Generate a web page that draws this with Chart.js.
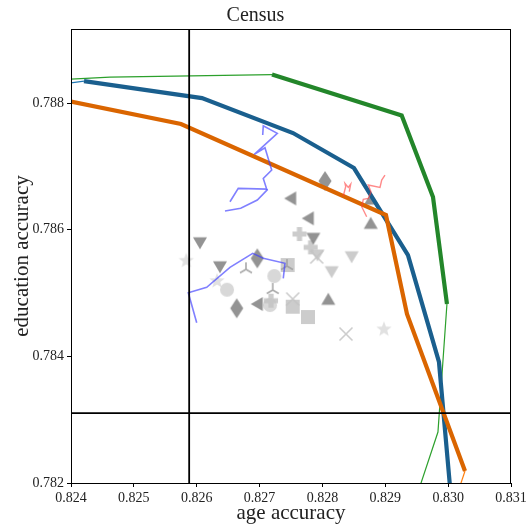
<!DOCTYPE html>
<html>
<head>
<meta charset="utf-8">
<script src="https://cdn.jsdelivr.net/npm/chart.js"></script>
<style>
html, body { margin: 0; padding: 0; background: #fff; }
</style>
</head>
<body>
<canvas id="chart" width="527" height="526"></canvas>
<script>
// axis ticks
const xTicks = [0.824, 0.825, 0.826, 0.827, 0.828, 0.829, 0.830, 0.831];
const yTicks = [0.782, 0.784, 0.786, 0.788];

// thick curves
const blueX = [0.824207, 0.826084, 0.827532, 0.828502, 0.829361, 0.829854, 0.830029];
const blueY = [0.788348, 0.788079, 0.787527, 0.786974, 0.785600, 0.783911, 0.781950];
const orangeX = [0.824000, 0.825750, 0.829011, 0.829345, 0.830268];
const orangeY = [0.788024, 0.787669, 0.786232, 0.784669, 0.782189];
const greenX = [0.827198, 0.829261, 0.829759, 0.829981];
const greenY = [0.788450, 0.787803, 0.786516, 0.784826];

// thin curves
const thinBlueX = [0.824000, 0.824207];
const thinBlueY = [0.788320, 0.788348];
const thinOrangeX = [0.830268, 0.830188];
const thinOrangeY = [0.782189, 0.781950];
const thinGreenTopX = [0.824000, 0.824620, 0.827198];
const thinGreenTopY = [0.788379, 0.788411, 0.788450];
const thinGreenLowX = [0.829981, 0.829838, 0.829552];
const thinGreenLowY = [0.784826, 0.782805, 0.781950];

// wiggly traces
const purpleAX = [0.826529, 0.826661, 0.827113, 0.827059, 0.827193, 0.827086, 0.826916, 0.827282, 0.827059, 0.827050];
const purpleAY = [0.786442, 0.786653, 0.786642, 0.786811, 0.786942, 0.787295, 0.787190, 0.787522, 0.787642, 0.787495];
const purpleBX = [0.826450, 0.826700, 0.826964, 0.827129];
const purpleBY = [0.786295, 0.786338, 0.786469, 0.786638];
const purpleCX = [0.826000, 0.825866, 0.826159, 0.826529, 0.826891, 0.827059, 0.827404, 0.827377];
const purpleCY = [0.784531, 0.785005, 0.785090, 0.785406, 0.785627, 0.785548, 0.785469, 0.785232];
const redAX = [0.828332, 0.828370, 0.828359, 0.828411, 0.828450, 0.828427];
const redAY = [0.786532, 0.786679, 0.786732, 0.786669, 0.786721, 0.786600];
const redBX = [0.828995, 0.828943, 0.828916, 0.828730, 0.828773, 0.828730, 0.828650, 0.828625, 0.828704];
const redBY = [0.786863, 0.786784, 0.786669, 0.786706, 0.786595, 0.786495, 0.786480, 0.786363, 0.786205];

// reference lines
const refX = 0.825880;
const refY = 0.783105;

// gray markers [x, y]
const darkDiamonds = [[0.828041, 0.786769], [0.826964, 0.785548], [0.826636, 0.784759]];
const darkLefts = [[0.827495, 0.786495], [0.827775, 0.786180], [0.826964, 0.784826]];
const darkDowns = [[0.826052, 0.785794], [0.826370, 0.785415], [0.827855, 0.785864]];
const darkUps = [[0.828768, 0.786101], [0.828773, 0.786484], [0.828093, 0.784901]];
const lightPluses = [[0.827635, 0.785932], [0.827813, 0.785722], [0.827182, 0.784879]];
const lightDowns = [[0.827921, 0.785600], [0.828465, 0.785573], [0.828147, 0.785337]];
const lightCrosses = [[0.827909, 0.785569], [0.827527, 0.784905], [0.828375, 0.784353]];
const lightSquares = [[0.827447, 0.785442], [0.827527, 0.784784], [0.827770, 0.784621]];
const lightCircles = [[0.827234, 0.785269], [0.826482, 0.785052], [0.827166, 0.784811]];
const lightStars = [[0.825834, 0.785510], [0.826323, 0.785190], [0.828979, 0.784427]];
const lightTris = [[0.826784, 0.785374], [0.827209, 0.785048], [0.827436, 0.785426]];

function pts(xs, ys) {
    return xs.map((x, i) => ({ x: x, y: ys[i] }));
}
function pairs(list) {
    return list.map(p => ({ x: p[0], y: p[1] }));
}

// 마커 이미지 (matplotlib 모양 흉내)
function marker(kind, color) {
    const c = document.createElement('canvas');
    c.width = 24;
    c.height = 24;
    const g = c.getContext('2d');
    g.translate(12, 12);
    g.fillStyle = color;
    g.strokeStyle = color;
    g.lineWidth = 1.6;
    g.beginPath();
    if (kind === 'diamond') {
        g.moveTo(0, -10); g.lineTo(6.5, 0); g.lineTo(0, 10); g.lineTo(-6.5, 0);
        g.closePath(); g.fill();
    } else if (kind === 'down') {
        g.moveTo(-7, -5.5); g.lineTo(7, -5.5); g.lineTo(0, 6.5);
        g.closePath(); g.fill();
    } else if (kind === 'up') {
        g.moveTo(-7, 5.5); g.lineTo(7, 5.5); g.lineTo(0, -6.5);
        g.closePath(); g.fill();
    } else if (kind === 'left') {
        g.moveTo(5.5, -7); g.lineTo(5.5, 7); g.lineTo(-6.5, 0);
        g.closePath(); g.fill();
    } else if (kind === 'square') {
        g.rect(-7, -7, 14, 14); g.fill();
    } else if (kind === 'circle') {
        g.arc(0, 0, 7, 0, Math.PI * 2); g.fill();
    } else if (kind === 'plus') {
        const a = 2.6, b = 7;
        g.moveTo(-a, -b); g.lineTo(a, -b); g.lineTo(a, -a); g.lineTo(b, -a);
        g.lineTo(b, a); g.lineTo(a, a); g.lineTo(a, b); g.lineTo(-a, b);
        g.lineTo(-a, a); g.lineTo(-b, a); g.lineTo(-b, -a); g.lineTo(-a, -a);
        g.closePath(); g.fill();
    } else if (kind === 'star') {
        for (let i = 0; i < 10; i++) {
            const r = i % 2 ? 3.4 : 8;
            const t = -Math.PI / 2 + i * Math.PI / 5;
            g.lineTo(r * Math.cos(t), r * Math.sin(t));
        }
        g.closePath(); g.fill();
    } else if (kind === 'x') {
        g.moveTo(-6.5, -6.5); g.lineTo(6.5, 6.5);
        g.moveTo(-6.5, 6.5); g.lineTo(6.5, -6.5);
        g.stroke();
    } else if (kind === 'tri') {
        g.moveTo(0, 0); g.lineTo(0, -7);
        g.moveTo(0, 0); g.lineTo(-6, 3.5);
        g.moveTo(0, 0); g.lineTo(6, 3.5);
        g.stroke();
    }
    return c;
}

const DARK = 'rgba(128,128,128,0.85)';
const LIGHT = 'rgba(195,195,195,0.85)';

function lineSet(data, color, width) {
    return { data: data, borderColor: color, borderWidth: width, pointRadius: 0, showLine: true, fill: false, tension: 0 };
}
function markerSet(data, style) {
    return { data: data, showLine: false, pointStyle: style, pointRadius: 7, borderWidth: 0, backgroundColor: 'transparent' };
}

// 아래에서 위로 그려지는 순서
const layers = [
    markerSet(pairs(lightStars), marker('star', 'rgba(222,222,222,0.9)')),
    markerSet(pairs(lightCircles), marker('circle', 'rgba(212,212,212,0.9)')),
    markerSet(pairs(lightSquares), marker('square', LIGHT)),
    markerSet(pairs(lightCrosses), marker('x', LIGHT)),
    markerSet(pairs(lightDowns), marker('down', LIGHT)),
    markerSet(pairs(lightPluses), marker('plus', LIGHT)),
    markerSet(pairs(lightTris), marker('tri', 'rgba(160,160,160,0.9)')),
    markerSet(pairs(darkDiamonds), marker('diamond', DARK)),
    markerSet(pairs(darkLefts), marker('left', DARK)),
    markerSet(pairs(darkDowns), marker('down', DARK)),
    markerSet(pairs(darkUps), marker('up', DARK)),
    lineSet(pts(thinGreenTopX, thinGreenTopY), '#2ca02c', 1.2),
    lineSet(pts(thinGreenLowX, thinGreenLowY), '#2ca02c', 1.2),
    lineSet(pts(thinBlueX, thinBlueY), '#1f77b4', 1.2),
    lineSet(pts(thinOrangeX, thinOrangeY), '#ff7f0e', 1.2),
    lineSet(pts(greenX, greenY), '#23862a', 4.2),
    lineSet(pts(blueX, blueY), '#1a5f8e', 4.2),
    lineSet(pts(orangeX, orangeY), '#da6500', 4.2),
    lineSet(pts(purpleAX, purpleAY), 'rgba(60,60,255,0.65)', 1.6),
    lineSet(pts(purpleBX, purpleBY), 'rgba(60,60,255,0.65)', 1.6),
    lineSet(pts(purpleCX, purpleCY), 'rgba(60,60,255,0.65)', 1.6),
    lineSet(pts(redAX, redAY), 'rgba(255,60,60,0.6)', 1.4),
    lineSet(pts(redBX, redBY), 'rgba(255,60,60,0.6)', 1.4),
    lineSet([{ x: refX, y: 0.7815 }, { x: refX, y: 0.7895 }], '#000', 1.8),
    lineSet([{ x: 0.8235, y: refY }, { x: 0.8315, y: refY }], '#000', 1.8)
];
layers.forEach((d, i) => { d.order = layers.length - i; });

// 테두리 상자
const framePlugin = {
    id: 'frame',
    afterDraw(chart) {
        const a = chart.chartArea;
        const ctx = chart.ctx;
        ctx.save();
        ctx.strokeStyle = '#000';
        ctx.lineWidth = 1;
        ctx.strokeRect(Math.round(a.left) + 0.5, Math.round(a.top) + 0.5, Math.round(a.right - a.left) - 1, Math.round(a.bottom - a.top));
        ctx.restore();
    }
};

Chart.defaults.font.family = "'Liberation Serif', 'DejaVu Serif', serif";
Chart.defaults.color = '#222';

new Chart(document.getElementById('chart'), {
    type: 'line',
    data: { datasets: layers },
    options: {
        responsive: false,
        animation: false,
        devicePixelRatio: 1,
        layout: { padding: { top: 0, right: 16, bottom: 0, left: 0 } },
        plugins: {
            legend: { display: false },
            tooltip: { enabled: false },
            title: {
                display: true,
                text: 'Census',
                font: { size: 20, weight: 'normal' },
                color: '#222',
                padding: { top: 4, bottom: 1 }
            }
        },
        scales: {
            x: {
                type: 'linear',
                min: 0.824,
                max: 0.831,
                afterBuildTicks: s => { s.ticks = xTicks.map(v => ({ value: v })); },
                afterFit: s => { s.height = 43; s.paddingLeft = 0; s.paddingRight = 0; },
                ticks: {
                    autoSkip: false,
                    maxRotation: 0,
                    padding: 3,
                    font: { size: 14 },
                    callback: v => v.toFixed(3)
                },
                grid: { drawOnChartArea: false, drawTicks: true, tickLength: 4, color: '#000' },
                border: { display: true, color: '#000', width: 1 },
                title: {
                    display: true,
                    text: 'age accuracy',
                    font: { size: 21 },
                    padding: { top: 0, bottom: 0 }
                }
            },
            y: {
                type: 'linear',
                min: 0.782,
                max: 0.78917,
                afterBuildTicks: s => { s.ticks = yTicks.map(v => ({ value: v })); },
                afterFit: s => { s.width = 71; s.paddingTop = 0; s.paddingBottom = 0; },
                ticks: {
                    autoSkip: false,
                    padding: 3,
                    font: { size: 14 },
                    callback: v => v.toFixed(3)
                },
                grid: { drawOnChartArea: false, drawTicks: true, tickLength: 4, color: '#000' },
                border: { display: true, color: '#000', width: 1 },
                title: {
                    display: true,
                    text: 'education accuracy',
                    font: { size: 21 },
                    padding: { top: 10, bottom: 0 }
                }
            }
        }
    },
    plugins: [framePlugin]
});
</script>
</body>
</html>
